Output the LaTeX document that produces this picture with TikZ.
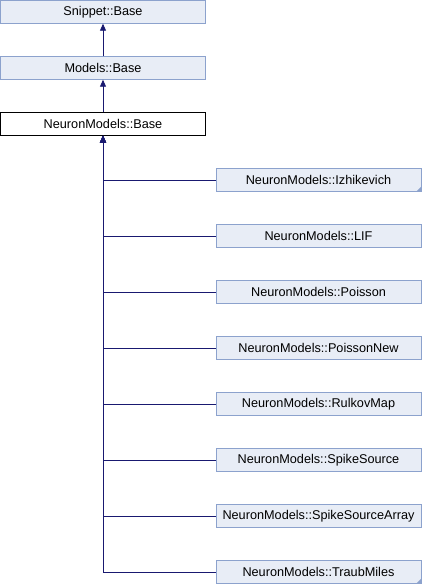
\documentclass[tikz,border=0pt]{standalone}
\usepackage{fontspec}
\setmainfont{Liberation Sans}
\usetikzlibrary{arrows.meta}
\definecolor{boxfill}{HTML}{E8EDF6}
\definecolor{boxline}{HTML}{8CA2CD}
\definecolor{linkcol}{HTML}{191970}
\begin{document}
\begin{tikzpicture}[x=1pt,y=-1pt,
  cls/.style={draw=boxline,fill=boxfill,minimum width=205pt,minimum height=23pt,inner sep=0pt,font=\fontsize{12.7}{15}\selectfont},
  link/.style={draw=linkcol,line width=0.9pt,-{Triangle[length=7pt,width=6pt]}}]
\useasboundingbox (0,0) rectangle (422,584);
\def\w{205}
% base classes
\node[cls] (snippet) at (103,12) {Snippet::Base};
\node[cls] (models) at (103,68) {Models::Base};
\node[cls,draw=black,fill=white] (base) at (103,124) {NeuronModels::Base};
\draw[link] (models) -- (snippet);
\draw[link] (base) -- (models);
% derived classes
\foreach \name [count=\i] in {Izhikevich,LIF,Poisson,PoissonNew,RulkovMap,SpikeSource,SpikeSourceArray,TraubMiles}
{
  \pgfmathsetmacro{\yy}{180+56*(\i-1)}
  \node[cls] (c\i) at (318.5,\yy) {NeuronModels::\name};
  \draw[link] (c\i.west) -| (base.south);
}
% truncated markers
\fill[boxline] (c1.south east) -- ++(-5,0) -- ++(5,-5) -- cycle;
\fill[boxline] (c8.south east) -- ++(-5,0) -- ++(5,-5) -- cycle;
\end{tikzpicture}
\end{document}
